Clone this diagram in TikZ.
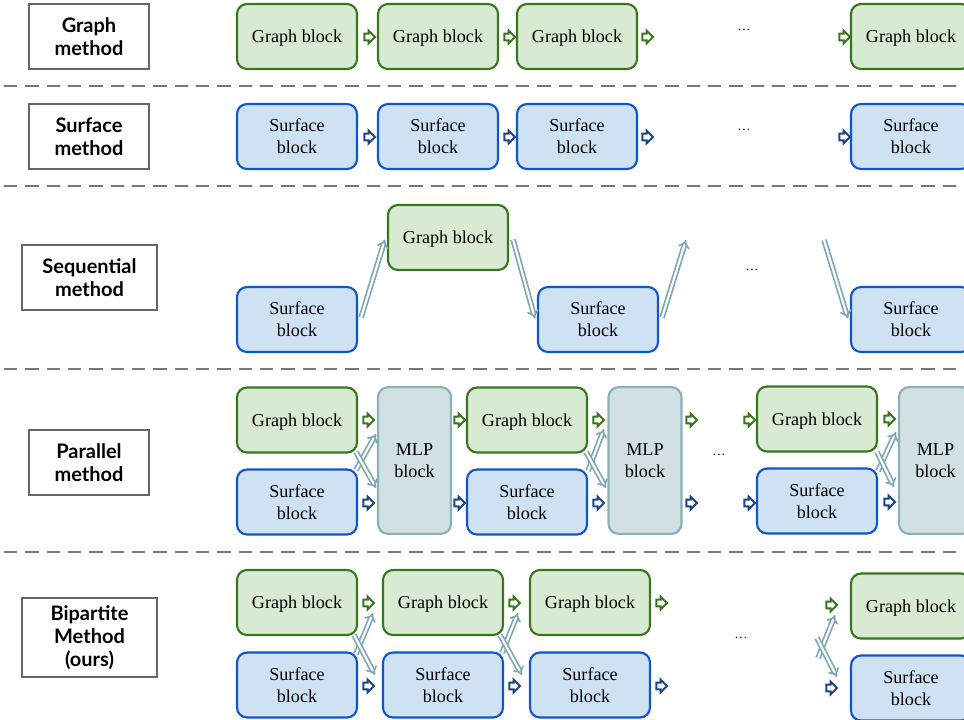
\documentclass[tikz,border=0pt]{standalone}
\usepackage{fontspec}
\setmainfont{Liberation Serif}
\newfontfamily\labfont{Lato}
\usetikzlibrary{shapes.arrows,arrows.meta}
\definecolor{gline}{HTML}{38761D}
\definecolor{gfill}{HTML}{D9EAD3}
\definecolor{sline}{HTML}{1155CC}
\definecolor{sfill}{HTML}{CFE2F3}
\definecolor{mline}{HTML}{8AAFB9}
\definecolor{mfill}{HTML}{D0E0E3}
\definecolor{tealc}{HTML}{7FA8B2}
\definecolor{navy}{HTML}{1C4587}
\definecolor{labline}{HTML}{666666}
\definecolor{dashc}{HTML}{777777}
\tikzset{
  blk/.style={rectangle, rounded corners=7.5pt, line width=1.6pt, minimum width=90pt, minimum height=48.75pt, inner sep=0pt, align=center, font=\fontsize{13.6}{16.5}\selectfont},
  gblk/.style={blk, draw=gline, fill=gfill, text depth=0pt},
  sblk/.style={blk, draw=sline, fill=sfill},
  mblk/.style={blk, draw=mline, fill=mfill, minimum width=54.75pt, minimum height=110pt},
  lab/.style={rectangle, draw=labline, line width=1.6pt, fill=white, minimum width=90pt, minimum height=48.75pt, inner sep=0pt, align=center, font=\labfont\bfseries\fontsize{15}{17.25}\selectfont},
  sa/.style={single arrow, draw, fill=white, line width=1.5pt, minimum height=8pt, inner sep=1.8pt, single arrow head extend=2.3pt},
  ga/.style={sa, draw=gline},
  ba/.style={sa, draw=navy},
  dbl/.style={draw=tealc, double=white, double distance=1.6pt, line width=1.3pt, -{Implies}},
  sep/.style={draw=dashc, line width=2pt, dash pattern=on 10pt off 6pt},
  dots/.style={font=\fontsize{10}{12}\selectfont, inner sep=0pt}
}
\begin{document}
\begin{tikzpicture}[x=0.75pt, y=-0.75pt]
\useasboundingbox (0,0) rectangle (964,719);
\clip (0,0) rectangle (964,719);
% separators
\draw[sep] (4,86) -- (964,86);
\draw[sep] (4,186) -- (964,186);
\draw[sep] (4,369) -- (964,369);
\draw[sep] (4,552) -- (964,552);
% labels
\node[lab] (l1) at (89,36.5) {Graph\\method};
\node[lab] (l2) at (89,136.5) {Surface\\method};
\node[lab, minimum width=101.25pt] (l3) at (89.5,277.5) {Sequential\\method};
\node[lab] (l4) at (89,462.5) {Parallel\\method};
\node[lab, minimum width=101.25pt, minimum height=59.25pt] (l5) at (89.5,637.5) {Bipartite\\Method\\(ours)};
% row 1
\node[gblk] (g11) at (297,36.5) {Graph block};
\node[gblk] (g12) at (438,36.5) {Graph block};
\node[gblk] (g13) at (577,36.5) {Graph block};
\node[gblk] (g14) at (911,36.5) {Graph block};
\node[ga] (a11) at (368,37) {};
\node[ga] (a12) at (508,37) {};
\node[ga] (a13) at (646,37) {};
\node[ga] (a14) at (843,37) {};
\node[dots] (d1) at (744,30) {\dots};
% row 2
\node[sblk] (s21) at (297,136.5) {Surface\\block};
\node[sblk] (s22) at (438,136.5) {Surface\\block};
\node[sblk] (s23) at (577,136.5) {Surface\\block};
\node[sblk] (s24) at (911,136.5) {Surface\\block};
\node[ba] (a21) at (368,137) {};
\node[ba] (a22) at (508,137) {};
\node[ba] (a23) at (646,137) {};
\node[ba] (a24) at (843,137) {};
\node[dots] (d2) at (744,130) {\dots};
% row 3
\node[sblk] (s31) at (297,319.5) {Surface\\block};
\node[gblk] (g31) at (448,237.5) {Graph block};
\node[sblk] (s32) at (598,319.5) {Surface\\block};
\node[sblk] (s33) at (911,319.5) {Surface\\block};
\coordinate (c31) at (686,240);
\coordinate (c32) at (824,240);
\draw[dbl] ([shift={(3,-2)}]s31.east) -- ([shift={(-2,2)}]g31.west);
\draw[dbl] ([shift={(4,2)}]g31.east) -- ([shift={(-2,-1)}]s32.west);
\draw[dbl] ([shift={(3,-2)}]s32.east) -- (c31);
\draw[dbl] (c32) -- ([shift={(-2,-1)}]s33.west);
\node[dots] (d3) at (752,270) {\dots};
% row 4
\node[gblk] (g41) at (297,420) {Graph block};
\node[sblk] (s41) at (297,502) {Surface\\block};
\node[mblk] (m41) at (414.5,460.5) {MLP\\block};
\node[gblk] (g42) at (527,420) {Graph block};
\node[sblk] (s42) at (527,502) {Surface\\block};
\node[mblk] (m42) at (645,460.5) {MLP\\block};
\node[gblk] (g43) at (817,419) {Graph block};
\node[sblk] (s43) at (817,501) {Surface\\block};
\node[mblk] (m43) at (935.5,460.5) {MLP\\block};
\node[ga] (a41) at (367,420) {};
\node[ba] (b41) at (367,503) {};
\node[ga] (a42) at (458,420) {};
\node[ba] (b42) at (458,503) {};
\node[ga] (a43) at (597,420) {};
\node[ba] (b43) at (597,503) {};
\node[ga] (a44) at (690,420) {};
\node[ba] (b44) at (690,503) {};
\node[ga] (a45) at (748,420) {};
\node[ba] (b45) at (748,503) {};
\node[ga] (a46) at (888,419) {};
\node[ba] (b46) at (888,502) {};
\coordinate (u41s) at (356,470); \coordinate (u41e) at (376,434);
\coordinate (v41s) at (356,452); \coordinate (v41e) at (376,488);
\coordinate (u42s) at (588,471); \coordinate (u42e) at (604,429);
\coordinate (v42s) at (586,452); \coordinate (v42e) at (606,488);
\coordinate (u43s) at (878,471); \coordinate (u43e) at (896,432);
\coordinate (v43s) at (877,452); \coordinate (v43e) at (894,487);
\draw[dbl] (u41s) -- (u41e);
\draw[dbl] (v41s) -- (v41e);
\draw[dbl] (u42s) -- (u42e);
\draw[dbl] (v42s) -- (v42e);
\draw[dbl] (u43s) -- (u43e);
\draw[dbl] (v43s) -- (v43e);
\node[dots] (d4) at (719,455) {\dots};
% row 5
\node[gblk] (g51) at (297,602.5) {Graph block};
\node[sblk] (s51) at (297,685) {Surface\\block};
\node[gblk] (g52) at (443,602.5) {Graph block};
\node[sblk] (s52) at (443,685) {Surface\\block};
\node[gblk] (g53) at (590,602.5) {Graph block};
\node[sblk] (s53) at (590,685) {Surface\\block};
\node[gblk] (g54) at (911,606) {Graph block};
\node[sblk] (s54) at (911,688) {Surface\\block};
\node[ga] (a51) at (367,603) {};
\node[ba] (b51) at (367,686) {};
\node[ga] (a52) at (513,603) {};
\node[ba] (b52) at (513,686) {};
\node[ga] (a53) at (660,603) {};
\node[ba] (b53) at (660,686) {};
\node[ga] (a54) at (830,605) {};
\node[ba] (b54) at (830,688) {};
\coordinate (u51s) at (356,654); \coordinate (u51e) at (373,613);
\coordinate (v51s) at (354,635); \coordinate (v51e) at (375,675);
\coordinate (u52s) at (502,653); \coordinate (u52e) at (518,613);
\coordinate (v52s) at (500,635); \coordinate (v52e) at (522,675);
\coordinate (u53s) at (818,658); \coordinate (u53e) at (835,615);
\coordinate (v53s) at (817,638); \coordinate (v53e) at (837,677);
\draw[dbl] (u51s) -- (u51e);
\draw[dbl] (v51s) -- (v51e);
\draw[dbl] (u52s) -- (u52e);
\draw[dbl] (v52s) -- (v52e);
\draw[dbl] (u53s) -- (u53e);
\draw[dbl] (v53s) -- (v53e);
\node[dots] (d5) at (741,638) {\dots};
\end{tikzpicture}
\end{document}
